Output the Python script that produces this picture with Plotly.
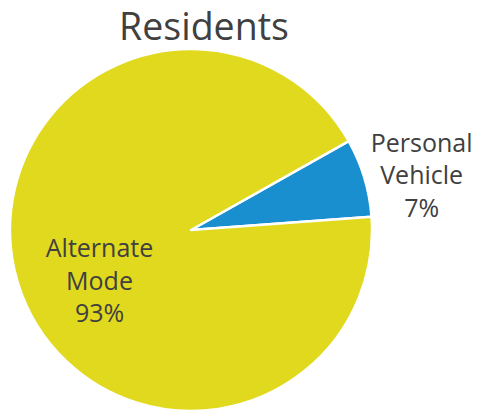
import plotly.graph_objects as go

# ---- data ----
categories = ["Personal<br>Vehicle", "Alternate<br>Mode"]
values = [7, 93]
colors = ["#1A8FCF", "#E0D91E"]
title_text = "Residents"

W, H = 477, 411
ROT = 60.6
FONT = dict(family="Open Sans", size=25, color="#404040")
CLEAR = ["rgba(0,0,0,0)", "rgba(0,0,0,0)"]

fig = go.Figure()

# visible pie (slices only)
fig.add_trace(go.Pie(
    labels=categories, values=values, sort=False, direction="clockwise", rotation=ROT,
    marker=dict(colors=colors, line=dict(color="white", width=2.5)),
    textinfo="none", showlegend=False, hoverinfo="skip",
    domain=dict(x=[10 / W, 372 / W], y=[0, 362 / H]),
))

# transparent overlay carrying the outside label of the small slice
fig.add_trace(go.Pie(
    labels=categories, values=values, sort=False, direction="clockwise", rotation=ROT,
    marker=dict(colors=CLEAR, line=dict(width=0)),
    texttemplate="%{label}<br>%{percent:.0%}", textposition=["outside", "none"],
    textfont=FONT, showlegend=False, hoverinfo="skip",
    domain=dict(x=[25 / W, 353 / W], y=[21 / H, 349 / H]),
))

# transparent overlay carrying the inside label of the large slice
fig.add_trace(go.Pie(
    labels=categories, values=values, sort=False, direction="clockwise", rotation=ROT,
    marker=dict(colors=CLEAR, line=dict(width=0)),
    texttemplate="%{label}<br>%{percent:.0%}", textposition=["none", "inside"],
    insidetextorientation="horizontal",
    textfont=FONT, showlegend=False, hoverinfo="skip",
    domain=dict(x=[21.3 / W, 321.3 / W], y=[2.7 / H, 302.7 / H]),
))

fig.update_layout(
    width=W, height=H,
    margin=dict(l=0, r=0, t=0, b=0, autoexpand=False),
    paper_bgcolor="white", plot_bgcolor="white",
    showlegend=False,
    title=dict(
        text=title_text, x=204 / W, xanchor="center", y=1 - 27 / H, yanchor="middle",
        font=dict(family="Open Sans", size=37.5, color="#404040"),
    ),
)

post = "document.body.style.margin='0';"

fig.write_html("out.html", post_script=post, config={"displayModeBar": False})
